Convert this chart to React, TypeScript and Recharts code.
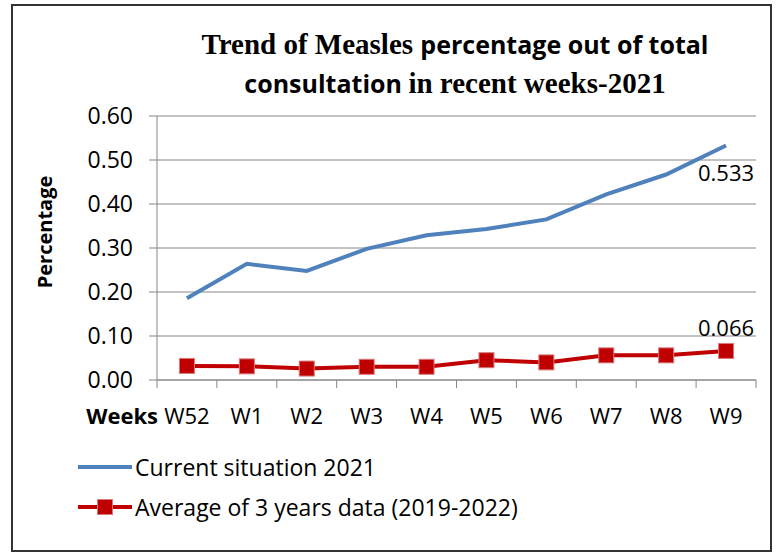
import React from 'react';
import { LineChart, Line, XAxis, YAxis, CartesianGrid, Legend, LabelList, Label, ReferenceLine } from 'recharts';

const weeks = ['W52', 'W1', 'W2', 'W3', 'W4', 'W5', 'W6', 'W7', 'W8', 'W9'];
const current2021 = [0.186, 0.264, 0.248, 0.298, 0.329, 0.343, 0.365, 0.422, 0.467, 0.533];
const average3y = [0.032, 0.031, 0.026, 0.030, 0.030, 0.045, 0.040, 0.056, 0.056, 0.066];
const yTicks = [0, 0.1, 0.2, 0.3, 0.4, 0.5, 0.6];

const BLUE = '#4F81BD';
const RED = '#C00000';
const GRID = '#868686';
const SANS = '"Open Sans", Lato, sans-serif';
const SERIF = '"Liberation Serif", "Times New Roman", serif';

const TICK_SIZE = 8;

const data = weeks.map((w, i) => ({ week: w, current: current2021[i], avg: average3y[i] }));

const RedSquare = (props: any) => {
  const { cx, cy } = props;
  if (cx == null || cy == null) return null;
  return <rect x={cx - 7.5} y={cy - 7.5} width={15} height={15} fill={RED} stroke="#D77A7A" strokeWidth={1} />;
};

// Excel-style tick marks on the band edges, drawn from each category's reference line
const BandEdgeTicks = (last: boolean) => (props: any) => {
  const { viewBox } = props;
  if (!viewBox) return null;
  const x = viewBox.x;
  const bottom = viewBox.y + viewBox.height;
  const half = 599 / weeks.length / 2;
  return (
    <g>
      <line x1={x - half} y1={bottom} x2={x - half} y2={bottom + TICK_SIZE} stroke={GRID} strokeWidth={1} />
      {last && <line x1={x + half} y1={bottom} x2={x + half} y2={bottom + TICK_SIZE} stroke={GRID} strokeWidth={1} />}
    </g>
  );
};

const lastLabel = (dy: number) => (props: any) => {
  const { x, y, value, index } = props;
  if (index !== weeks.length - 1) return null;
  return (
    <text x={x} y={y + dy} textAnchor="middle" dominantBaseline="central" fontFamily={SANS} fontSize={22} fill="#000">
      {value.toFixed(3)}
    </text>
  );
};

const LegendBox = () => (
  <div style={{ fontFamily: SANS, fontSize: 23, color: '#000' }}>
    <div style={{ display: 'flex', alignItems: 'center', height: 40 }}>
      <svg width={57} height={20}><line x1={0} y1={10} x2={54} y2={10} stroke={BLUE} strokeWidth={4} /></svg>
      <span>Current situation 2021</span>
    </div>
    <div style={{ display: 'flex', alignItems: 'center', height: 40 }}>
      <svg width={57} height={20}>
        <line x1={0} y1={10} x2={54} y2={10} stroke={RED} strokeWidth={4} />
        <rect x={19.5} y={2.5} width={15} height={15} fill={RED} stroke="#D77A7A" />
      </svg>
      <span>Average of 3 years data (2019-2022)</span>
    </div>
  </div>
);

export default function App() {
  return (
    <div style={{ position: 'absolute', left: 0, top: 0, width: 781, height: 555, background: '#fff' }}>
      <div style={{ position: 'absolute', left: 11, top: 4, width: 761, height: 548, border: '2px solid #333', boxSizing: 'border-box' }} />
      <div style={{ position: 'absolute', left: 130, width: 650, top: 27, textAlign: 'center', fontWeight: 'bold', lineHeight: '34px', color: '#000' }}>
        <div>
          <span style={{ fontFamily: SERIF, fontSize: 29 }}>Trend of Measles </span>
          <span style={{ fontFamily: SANS, fontSize: 25 }}>percentage out of total</span>
        </div>
        <div>
          <span style={{ fontFamily: SANS, fontSize: 25 }}>consultation </span>
          <span style={{ fontFamily: SERIF, fontSize: 29 }}>in recent weeks-2021</span>
        </div>
      </div>
      <div style={{ position: 'absolute', left: 0, top: 0 }}>
        <LineChart width={781} height={555} data={data} margin={{ top: 116, right: 25, bottom: 135, left: 0 }}>
          <CartesianGrid vertical={false} stroke={GRID} strokeWidth={1} />
          <XAxis
            dataKey="week"
            scale="band"
            stroke={GRID}
            tickLine={false}
            tickSize={8}
            tickMargin={20}
            height={40}
            interval={0}
            tick={{ fontFamily: SANS, fontSize: 22, fill: '#000' }}
          >
            <Label
              content={() => (
                <text x={158} y={415} textAnchor="end" dominantBaseline="central" fontFamily={SANS} fontSize={22} fontWeight="bold" fill="#000">
                  Weeks
                </text>
              )}
            />
          </XAxis>
          <YAxis
            width={157}
            domain={[0, 0.6]}
            ticks={yTicks}
            tickSize={8}
            tickMargin={16}
            stroke={GRID}
            tickFormatter={(v: number) => v.toFixed(2)}
            tick={{ fontFamily: SANS, fontSize: 23, fill: '#000' }}
          >
            <Label
              content={() => (
                <text x={44} y={232} transform="rotate(-90 44 232)" textAnchor="middle" dominantBaseline="central" fontFamily={SANS} fontSize={20} fontWeight="bold" fill="#000">
                  Percentage
                </text>
              )}
            />
          </YAxis>
          {weeks.map((w, i) => (
            <ReferenceLine
              key={w}
              x={w}
              stroke="none"
              ifOverflow="visible"
              label={BandEdgeTicks(i === weeks.length - 1)}
            />
          ))}
          <Legend
            layout="horizontal"
            verticalAlign="middle"
            align="center"
            wrapperStyle={{ left: 78, top: 447, width: 650 }}
            content={() => <LegendBox />}
          />
          <Line dataKey="current" stroke={BLUE} strokeWidth={4} dot={false} type="linear" isAnimationActive={false}>
            <LabelList dataKey="current" content={lastLabel(27)} />
          </Line>
          <Line dataKey="avg" stroke={RED} strokeWidth={4} dot={<RedSquare />} type="linear" isAnimationActive={false}>
            <LabelList dataKey="avg" content={lastLabel(-24)} />
          </Line>
        </LineChart>
      </div>
    </div>
  );
}
